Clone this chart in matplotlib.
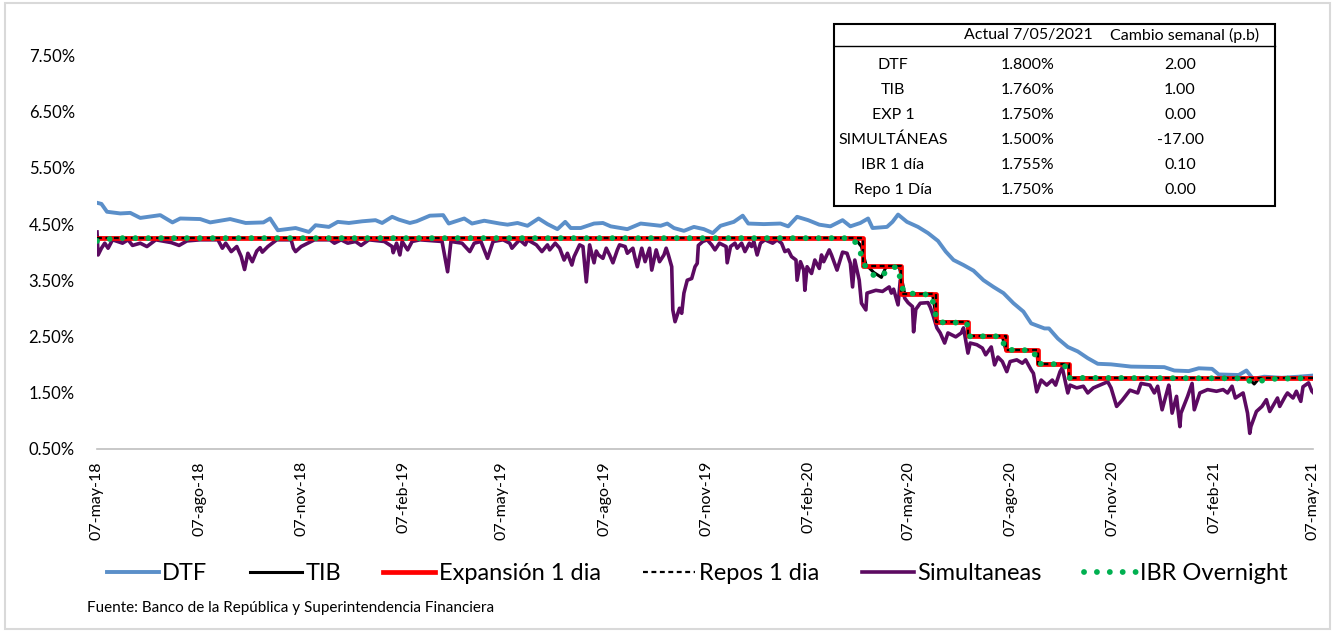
import matplotlib.pyplot as plt
from matplotlib.patches import Rectangle
from matplotlib.lines import Line2D
import pandas as pd

plt.rcParams['font.family'] = ['Lato', 'DejaVu Sans']

# ---------------- datos ----------------
dtf_fechas = ['2018-05-07', '2018-05-11', '2018-05-16', '2018-05-28', '2018-06-06', '2018-06-15', '2018-07-03',
              '2018-07-14', '2018-07-21', '2018-08-08', '2018-08-17', '2018-09-04', '2018-09-18', '2018-10-04',
              '2018-10-10', '2018-10-17', '2018-11-02', '2018-11-14', '2018-11-20', '2018-12-02', '2018-12-10',
              '2018-12-20', '2019-01-01', '2019-01-13', '2019-01-19', '2019-01-28', '2019-02-03', '2019-02-13',
              '2019-02-19', '2019-03-03', '2019-03-15', '2019-03-20', '2019-04-03', '2019-04-10', '2019-04-21',
              '2019-05-05', '2019-05-12', '2019-05-21', '2019-05-30', '2019-06-09', '2019-06-17', '2019-06-26',
              '2019-07-03', '2019-07-08', '2019-07-17', '2019-07-29', '2019-08-06', '2019-08-13', '2019-08-28',
              '2019-09-09', '2019-09-27', '2019-10-03', '2019-10-09', '2019-10-18', '2019-10-27', '2019-11-05',
              '2019-11-13', '2019-11-20', '2019-12-02', '2019-12-10', '2019-12-15', '2019-12-29', '2020-01-13',
              '2020-01-20', '2020-01-28', '2020-02-07', '2020-02-17', '2020-02-27', '2020-03-09', '2020-03-16',
              '2020-03-25', '2020-04-01', '2020-04-05', '2020-04-18', '2020-04-23', '2020-04-28', '2020-05-06',
              '2020-05-16', '2020-05-25', '2020-06-03', '2020-06-10', '2020-06-17', '2020-06-26', '2020-07-05',
              '2020-07-14', '2020-07-23', '2020-08-01', '2020-08-10', '2020-08-19', '2020-08-26', '2020-09-07',
              '2020-09-11', '2020-09-19', '2020-09-28', '2020-10-07', '2020-10-16', '2020-10-25', '2020-11-06',
              '2020-11-24', '2020-12-24', '2021-01-02', '2021-01-15', '2021-01-24', '2021-02-05', '2021-02-11',
              '2021-03-01', '2021-03-08', '2021-03-14', '2021-03-24', '2021-04-09', '2021-04-24', '2021-05-07']
dtf_vals = [4.88, 4.86, 4.72, 4.69, 4.70, 4.61, 4.66, 4.53, 4.60, 4.59,
            4.53, 4.59, 4.52, 4.53, 4.60, 4.39, 4.43, 4.36, 4.48, 4.45,
            4.54, 4.52, 4.55, 4.57, 4.52, 4.63, 4.58, 4.52, 4.55, 4.65,
            4.66, 4.51, 4.60, 4.51, 4.56, 4.51, 4.49, 4.52, 4.47, 4.60,
            4.50, 4.41, 4.54, 4.43, 4.43, 4.51, 4.52, 4.46, 4.41, 4.51,
            4.47, 4.51, 4.43, 4.38, 4.45, 4.41, 4.34, 4.47, 4.54, 4.65,
            4.51, 4.50, 4.51, 4.46, 4.63, 4.57, 4.49, 4.46, 4.57, 4.46,
            4.52, 4.60, 4.43, 4.45, 4.54, 4.67, 4.54, 4.45, 4.34, 4.20,
            4.01, 3.86, 3.77, 3.67, 3.50, 3.38, 3.27, 3.09, 2.94, 2.73,
            2.64, 2.64, 2.46, 2.31, 2.23, 2.11, 2.01, 2.00, 1.96, 1.95,
            1.89, 1.88, 1.93, 1.92, 1.82, 1.81, 1.89, 1.74, 1.78, 1.76,
            1.78, 1.80]

tib_fechas = ['2018-05-07', '2020-03-20', '2020-03-26', '2020-03-30', '2020-04-06', '2020-04-13', '2020-04-17',
              '2020-04-29', '2020-05-04', '2020-05-29', '2020-06-02', '2020-06-29', '2020-07-01', '2020-07-31',
              '2020-08-03', '2020-08-31', '2020-09-01', '2020-09-28', '2020-09-30', '2021-03-10', '2021-03-15',
              '2021-03-19', '2021-05-07']
tib_vals = [4.25, 4.25, 4.10, 3.78, 3.64, 3.55, 3.73, 3.75, 3.26, 3.26, 2.76, 2.76, 2.51, 2.50,
            2.26, 2.25, 2.01, 2.00, 1.76, 1.75, 1.65, 1.74, 1.76]

# tasa de expansion y repos 1 dia (cambios de la tasa de politica)
exp_fechas = ['2018-05-07', '2020-03-27', '2020-05-01', '2020-06-01', '2020-06-30', '2020-08-03',
              '2020-09-01', '2020-09-29', '2021-05-07']
exp_vals = [4.25, 3.75, 3.25, 2.75, 2.50, 2.25, 2.00, 1.75, 1.75]
repo_fechas = ['2018-05-07', '2020-03-27', '2020-05-01', '2020-06-01', '2020-06-30', '2020-08-03',
               '2020-09-01', '2020-09-29', '2021-05-07']
repo_vals = [4.25, 3.75, 3.25, 2.75, 2.50, 2.25, 2.00, 1.75, 1.75]

sim_fechas = ['2018-05-07', '2018-05-08', '2018-05-11', '2018-05-14', '2018-05-17', '2018-05-21', '2018-05-30', '2018-06-04', '2018-06-08', '2018-06-15',
              '2018-06-21', '2018-06-29', '2018-07-13', '2018-07-20', '2018-07-27', '2018-08-08', '2018-08-24', '2018-08-28', '2018-08-31', '2018-09-05',
              '2018-09-10', '2018-09-14', '2018-09-17', '2018-09-20', '2018-09-24', '2018-09-28', '2018-10-01', '2018-10-03', '2018-10-08', '2018-10-16',
              '2018-10-29', '2018-10-31', '2018-11-02', '2018-11-07', '2018-11-13', '2018-11-19', '2018-12-03', '2018-12-07', '2018-12-13', '2018-12-19',
              '2018-12-26', '2018-12-31', '2019-01-07', '2019-01-21', '2019-01-28', '2019-01-29', '2019-02-01', '2019-02-04', '2019-02-06', '2019-02-11',
              '2019-02-15', '2019-02-22', '2019-03-14', '2019-03-19', '2019-03-22', '2019-04-01', '2019-04-08', '2019-04-12', '2019-04-18', '2019-04-24',
              '2019-04-29', '2019-05-08', '2019-05-14', '2019-05-16', '2019-05-20', '2019-05-23', '2019-05-28', '2019-05-30', '2019-06-07', '2019-06-12',
              '2019-06-17', '2019-06-19', '2019-06-24', '2019-06-28', '2019-07-02', '2019-07-05', '2019-07-09', '2019-07-11', '2019-07-16', '2019-07-19',
              '2019-07-22', '2019-07-25', '2019-07-29', '2019-07-31', '2019-08-02', '2019-08-06', '2019-08-09', '2019-08-12', '2019-08-15', '2019-08-19',
              '2019-08-21', '2019-08-26', '2019-08-28', '2019-09-02', '2019-09-04', '2019-09-06', '2019-09-10', '2019-09-13', '2019-09-17', '2019-09-19',
              '2019-09-23', '2019-09-26', '2019-09-30', '2019-10-02', '2019-10-04', '2019-10-07', '2019-10-08', '2019-10-10', '2019-10-14', '2019-10-16',
              '2019-10-18', '2019-10-21', '2019-10-25', '2019-10-28', '2019-10-30', '2019-10-31', '2019-11-04', '2019-11-08', '2019-11-12', '2019-11-15',
              '2019-11-19', '2019-11-25', '2019-11-26', '2019-11-29', '2019-12-03', '2019-12-05', '2019-12-09', '2019-12-12', '2019-12-16', '2019-12-18',
              '2019-12-20', '2019-12-23', '2019-12-26', '2019-12-30', '2020-01-06', '2020-01-10', '2020-01-14', '2020-01-17', '2020-01-20', '2020-01-23',
              '2020-01-27', '2020-01-28', '2020-01-31', '2020-02-03', '2020-02-04', '2020-02-06', '2020-02-10', '2020-02-13', '2020-02-17', '2020-02-19',
              '2020-02-21', '2020-02-26', '2020-02-28', '2020-03-04', '2020-03-09', '2020-03-13', '2020-03-16', '2020-03-18', '2020-03-20', '2020-03-24',
              '2020-03-26', '2020-03-30', '2020-03-31', '2020-04-08', '2020-04-14', '2020-04-20', '2020-04-22', '2020-04-24', '2020-04-28', '2020-04-30',
              '2020-05-04', '2020-05-07', '2020-05-11', '2020-05-12', '2020-05-14', '2020-05-18', '2020-05-25', '2020-05-27', '2020-05-29', '2020-06-02',
              '2020-06-05', '2020-06-09', '2020-06-12', '2020-06-19', '2020-06-24', '2020-06-26', '2020-06-30', '2020-07-02', '2020-07-08', '2020-07-13',
              '2020-07-16', '2020-07-21', '2020-07-24', '2020-07-27', '2020-07-31', '2020-08-04', '2020-08-07', '2020-08-13', '2020-08-18', '2020-08-21',
              '2020-08-26', '2020-08-28', '2020-08-31', '2020-09-04', '2020-09-09', '2020-09-14', '2020-09-17', '2020-09-21', '2020-09-23', '2020-09-28',
              '2020-09-30', '2020-10-06', '2020-10-12', '2020-10-16', '2020-10-21', '2020-10-27', '2020-11-03', '2020-11-06', '2020-11-11', '2020-11-16',
              '2020-11-23', '2020-11-30', '2020-12-03', '2020-12-11', '2020-12-15', '2020-12-18', '2020-12-22', '2020-12-28', '2020-12-29', '2020-12-31',
              '2021-01-04', '2021-01-07', '2021-01-08', '2021-01-14', '2021-01-18', '2021-01-20', '2021-01-25', '2021-02-01', '2021-02-09', '2021-02-15',
              '2021-02-19', '2021-02-23', '2021-02-26', '2021-03-05', '2021-03-09', '2021-03-11', '2021-03-12', '2021-03-17', '2021-03-22', '2021-03-26',
              '2021-03-29', '2021-04-05', '2021-04-07', '2021-04-12', '2021-04-14', '2021-04-19', '2021-04-22', '2021-04-26', '2021-04-28', '2021-05-03',
              '2021-05-06', '2021-05-07']
sim_vals = [4.36, 3.95, 4.07, 4.16, 4.07, 4.22, 4.16, 4.22, 4.12, 4.16,
            4.10, 4.22, 4.17, 4.12, 4.20, 4.22, 4.22, 4.07, 4.16, 4.01,
            4.10, 3.92, 3.69, 3.98, 3.83, 4.02, 4.08, 4.00, 4.10, 4.22,
            4.22, 4.07, 4.01, 4.10, 4.16, 4.22, 4.22, 4.16, 4.22, 4.16,
            4.19, 4.12, 4.22, 4.19, 4.10, 3.99, 4.16, 3.95, 4.19, 4.04,
            4.19, 4.22, 4.19, 3.65, 4.19, 4.16, 4.01, 4.16, 4.19, 3.89,
            4.19, 4.22, 4.16, 4.07, 4.16, 4.22, 4.13, 4.22, 4.13, 4.01,
            4.13, 4.04, 4.16, 4.07, 3.86, 3.98, 3.77, 3.92, 4.13, 4.10,
            3.47, 4.13, 3.81, 4.02, 3.95, 3.89, 4.07, 3.95, 3.81, 4.04,
            4.13, 4.10, 3.98, 4.07, 3.89, 3.74, 4.07, 3.83, 4.07, 3.68,
            4.04, 3.83, 3.95, 4.07, 3.95, 3.74, 2.97, 2.76, 3.00, 2.91,
            3.27, 3.50, 3.53, 3.74, 3.80, 4.12, 4.19, 4.22, 4.13, 4.04,
            4.16, 4.10, 3.81, 4.10, 4.16, 4.07, 4.16, 4.01, 4.16, 4.10,
            4.19, 3.95, 4.16, 4.22, 4.16, 4.22, 4.16, 4.01, 4.04, 3.92,
            3.86, 3.50, 3.83, 3.68, 3.32, 3.74, 3.62, 3.86, 3.71, 3.95,
            3.83, 4.04, 3.95, 3.68, 4.00, 3.98, 3.80, 3.38, 3.86, 3.50,
            3.09, 2.97, 3.27, 3.32, 3.30, 3.38, 3.27, 3.34, 3.06, 3.50,
            3.18, 3.10, 3.03, 2.58, 2.98, 3.09, 3.10, 3.02, 2.91, 2.65,
            2.56, 2.38, 2.56, 2.49, 2.56, 2.65, 2.20, 2.38, 2.35, 2.29,
            2.17, 2.31, 1.99, 2.13, 2.05, 1.87, 2.05, 2.08, 2.02, 2.08,
            1.90, 1.84, 1.51, 1.72, 1.63, 1.72, 1.63, 1.87, 1.94, 1.49,
            1.63, 1.58, 1.61, 1.49, 1.58, 1.63, 1.69, 1.58, 1.25, 1.36,
            1.54, 1.49, 1.66, 1.63, 1.49, 1.61, 1.19, 1.63, 1.49, 1.13,
            1.43, 0.89, 1.13, 1.43, 1.66, 1.19, 1.49, 1.55, 1.52, 1.55,
            1.49, 1.61, 1.40, 1.49, 1.13, 0.77, 0.89, 1.16, 1.25, 1.37,
            1.16, 1.40, 1.25, 1.43, 1.49, 1.40, 1.52, 1.34, 1.60, 1.67,
            1.52, 1.50]

ibr_fechas = ['2018-05-07', '2018-05-14', '2018-05-21', '2020-03-18', '2020-03-24', '2020-03-27', '2020-03-31',
              '2020-04-06', '2020-04-13', '2020-04-20', '2020-04-28', '2020-05-01', '2020-05-04', '2020-05-28',
              '2020-06-02', '2020-06-04', '2020-06-29', '2020-07-01', '2020-07-30', '2020-08-03', '2020-08-28',
              '2020-09-01', '2020-09-25', '2020-09-29', '2021-03-08', '2021-03-11', '2021-03-22', '2021-03-29',
              '2021-05-07']
ibr_vals = [4.20, 4.21, 4.25, 4.25, 4.07, 3.86, 3.68, 3.59, 3.56, 3.72, 3.74, 3.40, 3.27, 3.24, 2.78,
            2.75, 2.74, 2.50, 2.50, 2.26, 2.25, 2.01, 2.00, 1.76, 1.75, 1.70, 1.71, 1.74, 1.755]

tick_fechas = ['2018-05-07', '2018-08-07', '2018-11-07', '2019-02-07', '2019-05-07', '2019-08-07', '2019-11-07',
               '2020-02-07', '2020-05-07', '2020-08-07', '2020-11-07', '2021-02-07', '2021-05-07']
tick_labels = ['07-may-18', '07-ago-18', '07-nov-18', '07-feb-19', '07-may-19', '07-ago-19', '07-nov-19',
               '07-feb-20', '07-may-20', '07-ago-20', '07-nov-20', '07-feb-21', '07-may-21']
y_ticks = [0.5, 1.5, 2.5, 3.5, 4.5, 5.5, 6.5, 7.5]

tabla_filas = ['DTF', 'TIB', 'EXP 1', 'SIMULTÁNEAS', 'IBR 1 día', 'Repo 1 Día']
tabla_actual = ['1.800%', '1.760%', '1.750%', '1.500%', '1.755%', '1.750%']
tabla_cambio = ['2.00', '1.00', '0.00', '-17.00', '0.10', '0.00']

# ---------------- figura ----------------
W, H = 1335, 631
fig = plt.figure(figsize=(W / 100, H / 100), dpi=100)
ax = fig.add_axes([97 / W, 1 - 448.5 / H, 1216 / W, 7.5 * 56.1 / H])

fd = pd.to_datetime
ax.plot(fd(dtf_fechas), dtf_vals, color='#5B8FC9', lw=2.8, label='DTF', zorder=2)
ax.plot(fd(sim_fechas), sim_vals, color='#5C0A61', lw=2.6, label='Simultaneas', zorder=3)
ax.plot(fd(tib_fechas), tib_vals, color='black', lw=2.2, label='TIB', zorder=4)
ax.plot(fd(exp_fechas), exp_vals, color='#FF0000', lw=3.4, drawstyle='steps-post',
        label='Expansión 1 dia', zorder=5)
ax.plot(fd(repo_fechas), repo_vals, color='black', lw=1.6, ls=(0, (2.2, 1.6)), drawstyle='steps-post',
        label='Repos 1 dia', zorder=6)
ax.plot(fd(ibr_fechas), ibr_vals, color='#00B050', lw=4.2, ls=(0, (0.01, 2.2)),
        dash_capstyle='round', label='IBR Overnight', zorder=7)

ax.set_xlim(fd('2018-05-07'), fd('2021-05-07'))
ax.set_ylim(0.5, 8.0)
ax.set_yticks(y_ticks)
ax.set_yticklabels([f'{v:.2f}%' for v in y_ticks], fontsize=12)
ax.set_xticks(fd(tick_fechas))
ax.set_xticklabels(tick_labels, rotation=90, fontsize=11.5, va='top')
ax.tick_params(axis='y', length=0, pad=16)
ax.tick_params(axis='x', length=0, pad=9)
for s in ['top', 'right', 'left']:
    ax.spines[s].set_visible(False)
ax.spines['bottom'].set_color('#BFBFBF')
ax.spines['bottom'].set_linewidth(1.2)

# leyenda en el orden original
handles, labels = ax.get_legend_handles_labels()
orden = ['DTF', 'TIB', 'Expansión 1 dia', 'Repos 1 dia', 'Simultaneas', 'IBR Overnight']
h = [handles[labels.index(o)] for o in orden]
fig.legend(h, orden, loc='center', bbox_to_anchor=(0.522, 1 - 574 / H), ncol=6, frameon=False,
           fontsize=17, handlelength=2.2, handletextpad=0.15, columnspacing=1.8)

fig.text(87 / W, 1 - 608 / H, 'Fuente: Banco de la República y Superintendencia Financiera',
         fontsize=11, va='center', ha='left')

# tabla de valores
fig.add_artist(Rectangle((834 / W, 1 - 206 / H), 441 / W, 182 / H, transform=fig.transFigure,
                         fill=False, ec='black', lw=1.5))
fig.add_artist(Line2D([834 / W, 1275 / W], [1 - 46 / H, 1 - 46 / H], transform=fig.transFigure,
                      color='black', lw=1.0))
fig.text(1028 / W, 1 - 35 / H, 'Actual 7/05/2021', fontsize=11.5, ha='center', va='center')
fig.text(1185 / W, 1 - 35 / H, 'Cambio semanal (p.b)', fontsize=11.5, ha='center', va='center')
for i, fila in enumerate(tabla_filas):
    yy = 1 - (65 + i * 25) / H
    fig.text(893 / W, yy, fila, fontsize=11.5, ha='center', va='center')
    fig.text(1028 / W, yy, tabla_actual[i], fontsize=11.5, ha='center', va='center')
    fig.text(1180 / W, yy, tabla_cambio[i], fontsize=11.5, ha='center', va='center')

# borde del area del grafico
fig.add_artist(Rectangle((5 / W, 1 - 629 / H), 1325 / W, 626 / H, transform=fig.transFigure,
                         fill=False, ec='#D9D9D9', lw=1.5))

plt.savefig('out.png', dpi=100)
